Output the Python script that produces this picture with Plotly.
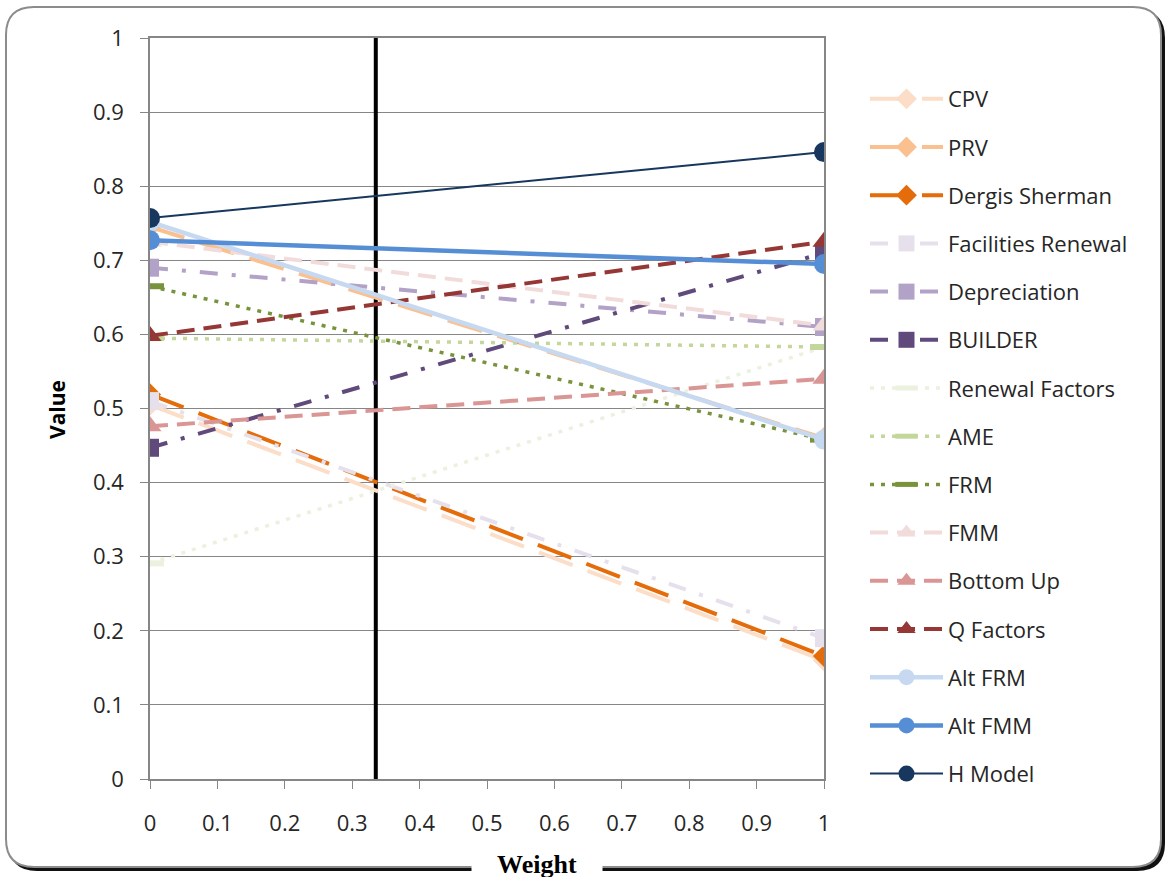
import plotly.graph_objects as go

W, H = 1167, 878
L, R, T, B = 150, 824, 38, 779  # plot area in pixels

weights = [0, 1]
series_names = ["CPV", "PRV", "Dergis Sherman", "Facilities Renewal", "Depreciation",
                "BUILDER", "Renewal Factors", "AME", "FRM", "FMM", "Bottom Up",
                "Q Factors", "Alt FRM", "Alt FMM", "H Model"]
cpv = [0.505, 0.160]
prv = [0.745, 0.460]
dergis = [0.519, 0.166]
facilities = [0.510, 0.190]
depreciation = [0.690, 0.610]
builder = [0.447, 0.710]
renewal = [0.291, 0.583]
ame = [0.595, 0.583]
frm = [0.665, 0.458]
fmm = [0.725, 0.612]
bottom_up = [0.476, 0.540]
q_factors = [0.598, 0.725]
alt_frm = [0.752, 0.458]
alt_fmm = [0.727, 0.695]
h_model = [0.757, 0.846]
values = [cpv, prv, dergis, facilities, depreciation, builder, renewal, ame, frm,
          fmm, bottom_up, q_factors, alt_frm, alt_fmm, h_model]

marker_x = [0.335, 0.335]
marker_y = [0, 1]

x_ticks = [0, 0.1, 0.2, 0.3, 0.4, 0.5, 0.6, 0.7, 0.8, 0.9, 1]
y_ticks = [0, 0.1, 0.2, 0.3, 0.4, 0.5, 0.6, 0.7, 0.8, 0.9, 1]

longdash = "36px,16px"
dashdot = "18px,14px,4px,14px"
dashed = "18px,9px"
dotted = "4px,7px"
styles = [
    dict(color="#FBDDC8", dash=longdash, width=4, symbol="diamond", size=17),
    dict(color="#FAC090", dash=longdash, width=4, symbol="diamond", size=17),
    dict(color="#E46C0A", dash=longdash, width=4, symbol="diamond", size=17),
    dict(color="#E6E0EC", dash=dashdot, width=4, symbol="square", size=18),
    dict(color="#B3A2C7", dash=dashdot, width=4, symbol="square", size=18),
    dict(color="#604A7B", dash=dashdot, width=4, symbol="square", size=18),
    dict(color="#EBF1DE", dash=dotted, width=3.5, symbol="line-ew", size=20),
    dict(color="#C3D69B", dash=dotted, width=3.5, symbol="line-ew", size=20),
    dict(color="#77933C", dash=dotted, width=3.5, symbol="line-ew", size=20),
    dict(color="#F2DCDB", dash=dashed, width=4, symbol="triangle-up", size=20),
    dict(color="#D99694", dash=dashed, width=4, symbol="triangle-up", size=20),
    dict(color="#953735", dash=dashed, width=4, symbol="triangle-up", size=20),
    dict(color="#C6D9F1", dash="solid", width=4.5, symbol="circle", size=20),
    dict(color="#558ED5", dash="solid", width=4.5, symbol="circle", size=20),
    dict(color="#17375E", dash="solid", width=2, symbol="circle", size=20),
]

fig = go.Figure()
fig.add_trace(go.Scatter(x=marker_x, y=marker_y, mode="lines", showlegend=False,
                         line=dict(color="black", width=4), hoverinfo="skip"))
for name, vals, st in zip(series_names, values, styles):
    if st["symbol"] == "line-ew":
        mk = dict(symbol="line-ew", size=st["size"], line=dict(color=st["color"], width=6), color=st["color"])
    else:
        mk = dict(symbol=st["symbol"], size=st["size"], color=st["color"], line=dict(width=0))
    fig.add_trace(go.Scatter(x=weights, y=vals, name=name, mode="lines+markers",
                             legendgroup=name,
                             line=dict(color=st["color"], width=st["width"], dash=st["dash"]),
                             marker=mk))


def px2paper(px, py):
    return (px - L) / (R - L), (B - py) / (B - T)


def rounded_path(x0, y0, x1, y1, r):
    def P(x, y):
        a, b = px2paper(x, y)
        return f"{a:.5f},{b:.5f}"
    d = f"M {P(x0 + r, y0)} L {P(x1 - r, y0)} Q {P(x1, y0)} {P(x1, y0 + r)} "
    d += f"L {P(x1, y1 - r)} Q {P(x1, y1)} {P(x1 - r, y1)} "
    d += f"L {P(x0 + r, y1)} Q {P(x0, y1)} {P(x0, y1 - r)} "
    d += f"L {P(x0, y0 + r)} Q {P(x0, y0)} {P(x0 + r, y0)} Z"
    return d


shapes = [
    dict(type="path", xref="paper", yref="paper", layer="below",
         path=rounded_path(9, 10, 1165, 871, 28), fillcolor="#111111", line=dict(width=0)),
    dict(type="path", xref="paper", yref="paper", layer="below",
         path=rounded_path(6, 7, 1161, 867, 28), fillcolor="white",
         line=dict(color="#8C8C8C", width=2)),
]

wx, wy = px2paper(537, 864)
vx, vy = px2paper(57, 410)
annotations = [
    dict(text="<b>Weight</b>", x=wx, y=wy, xref="paper", yref="paper", showarrow=False,
         font=dict(family="Liberation Serif", size=26, color="black"),
         bgcolor="white", borderpad=0, width=130, height=26,
         xanchor="center", yanchor="middle"),
    dict(text="<b>Value</b>", x=vx, y=vy, xref="paper", yref="paper", showarrow=False,
         textangle=-90, font=dict(family="Open Sans", size=21, color="black"),
         xanchor="center", yanchor="middle"),
]

lx, ly = px2paper(865, 78)
fig.update_layout(
    width=W, height=H,
    margin=dict(l=L, r=W - R, t=T, b=H - B, pad=0),
    paper_bgcolor="white", plot_bgcolor="rgba(0,0,0,0)",
    shapes=shapes, annotations=annotations,
    font=dict(family="Open Sans", size=22, color="#262626"),
    showlegend=True,
    legend=dict(x=lx, y=ly, xanchor="left", yanchor="top", tracegroupgap=16.6,
                font=dict(family="Open Sans", size=22, color="#262626"),
                bgcolor="rgba(0,0,0,0)", itemwidth=73, maxheight=860),
    xaxis=dict(range=[0, 1], tickvals=x_ticks, ticktext=[f"{v:g}" for v in x_ticks],
               showgrid=False, zeroline=False, showline=True, mirror=True,
               linecolor="#868686", linewidth=1.5, ticks="outside", ticklen=8,
               tickcolor="#868686", ticklabelstandoff=16,
               tickfont=dict(size=22, color="#262626")),
    yaxis=dict(range=[0, 1], tickvals=y_ticks, ticktext=[f"{v:g}" for v in y_ticks],
               showgrid=True, gridcolor="#868686", gridwidth=1.2, zeroline=False,
               showline=True, mirror=True, linecolor="#868686", linewidth=1.5,
               ticks="outside", ticklen=8, tickcolor="#868686", ticklabelstandoff=12,
               tickfont=dict(size=22, color="#262626")),
)

fig.write_html("out.html")
